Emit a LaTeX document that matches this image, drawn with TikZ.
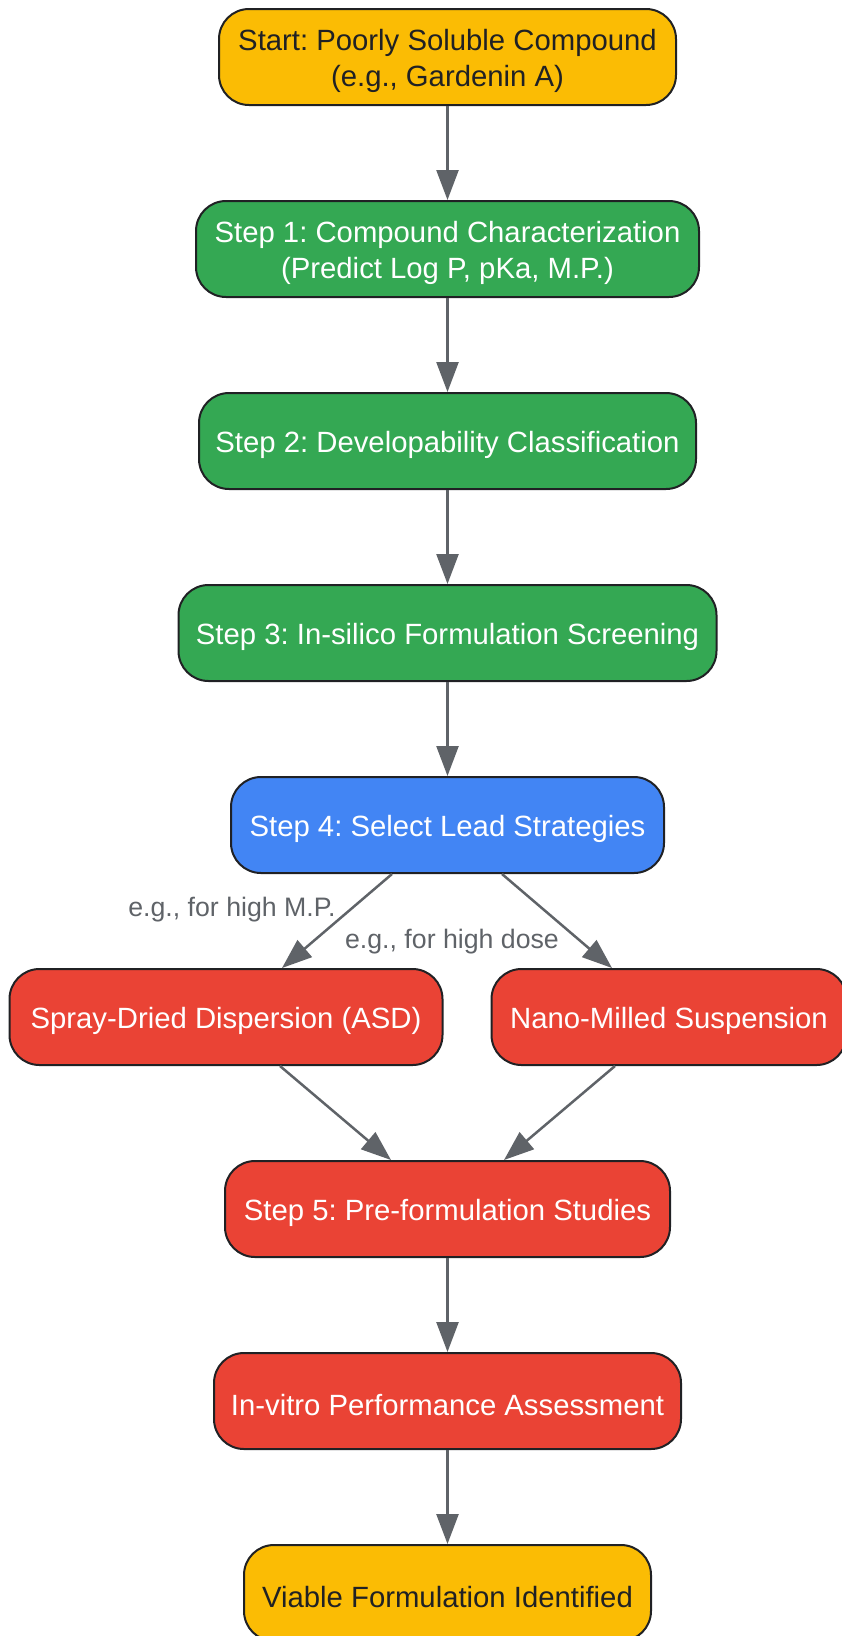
\documentclass[tikz,border=0pt]{standalone}
\usepackage{fontspec}
\setmainfont{Liberation Sans}
\frenchspacing
\usetikzlibrary{arrows.meta}
\definecolor{cyellow}{HTML}{FBBC04}
\definecolor{cgreen}{HTML}{34A853}
\definecolor{cblue}{HTML}{4285F4}
\definecolor{cred}{HTML}{EA4335}
\definecolor{cborder}{HTML}{202124}
\definecolor{carrow}{HTML}{5F6368}
\newcommand{\topstrut}{\rule{0pt}{29pt}}
\tikzset{
  box/.style={draw=cborder, line width=2pt, rounded corners=30pt, minimum height=96pt,
    inner sep=0pt, align=center, font=\fontsize{29.3}{36.5}\selectfont, text=white},
  ybox/.style={box, fill=cyellow, text=cborder},
  gbox/.style={box, fill=cgreen},
  bbox/.style={box, fill=cblue},
  rbox/.style={box, fill=cred},
  arr/.style={draw=carrow, line width=2.5pt, -{Triangle[length=30pt,width=22pt]}},
  lbl/.style={text=carrow, font=\fontsize{26.7}{30}\selectfont, inner sep=0pt}
}
\begin{document}
\begin{tikzpicture}[x=1pt,y=-1pt]
\useasboundingbox (0,0) rectangle (841,1636);
\node[ybox, minimum width=457pt] (start) at (447.5,57) {\topstrut Start: Poorly Soluble Compound\\(e.g., Gardenin A)};
\node[gbox, minimum width=503pt] (s1) at (447.5,249) {\topstrut Step 1: Compound Characterization\\(Predict Log P, pKa, M.P.)};
\node[gbox, minimum width=497pt] (s2) at (447.5,441) {\topstrut Step 2: Developability Classification};
\node[gbox, minimum width=538pt] (s3) at (447.5,633) {\topstrut Step 3: In-silico Formulation Screening};
\node[bbox, minimum width=433pt] (s4) at (447.5,825) {\topstrut Step 4: Select Lead Strategies};
\node[rbox, minimum width=433pt] (asd) at (226,1017) {\topstrut Spray-Dried Dispersion (ASD)};
\node[rbox, minimum width=355pt] (nano) at (669,1017) {\topstrut Nano-Milled Suspension};
\node[rbox, minimum width=445pt] (s5) at (447.5,1209) {\topstrut Step 5: Pre-formulation Studies};
\node[rbox, minimum width=467pt] (iv) at (447.5,1401) {\topstrut In-vitro Performance Assessment};
\node[ybox, minimum width=407pt] (via) at (447.5,1593) {\topstrut Viable Formulation Identified};

\draw[arr] (start) -- (s1);
\draw[arr] (s1) -- (s2);
\draw[arr] (s2) -- (s3);
\draw[arr] (s3) -- (s4);
\draw[arr] ([xshift=-55.5]s4.south) -- ([xshift=56]asd.north);
\draw[arr] ([xshift=54.5]s4.south) -- ([xshift=-57]nano.north);
\draw[arr] ([xshift=54]asd.south) -- ([xshift=-56.5]s5.north);
\draw[arr] ([xshift=-54]nano.south) -- ([xshift=56.5]s5.north);
\draw[arr] (s5) -- (iv);
\draw[arr] (iv) -- (via);

\node[lbl] (l1) at (232,910) {e.g., for high M.P.};
\node[lbl] (l2) at (452,942) {e.g., for high dose};
\end{tikzpicture}
\end{document}
